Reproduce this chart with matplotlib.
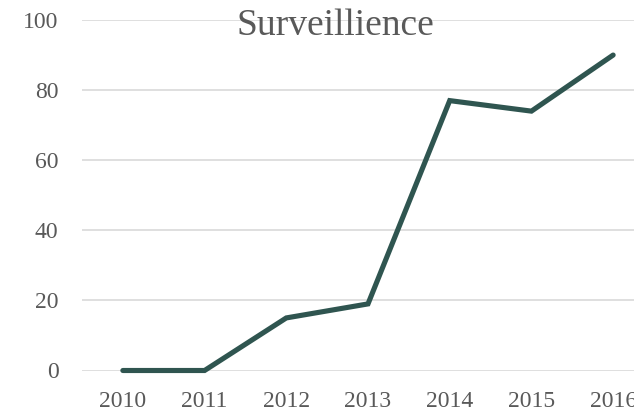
import matplotlib.pyplot as plt

# Data

years = ["2010", "2011", "2012", "2013", "2014", "2015", "2016"]
values = [0, 0, 15, 19, 77, 74, 90]
y_ticks = [0, 20, 40, 60, 80, 100]

text_color = "#595959"
line_color = "#2F5550"
grid_color = "#D9D9D9"

plt.rcParams['font.family'] = ['Liberation Serif', 'DejaVu Serif']

fig = plt.figure(figsize=(6.34, 4.12), dpi=100)
W, H = 634, 412
left, right, top, bottom = 82, 654, 20, 370.5
ax = fig.add_axes([left / W, 1 - bottom / H, (right - left) / W, (bottom - top) / H])

x = list(range(len(years)))
ax.plot(x, values, color=line_color, linewidth=3.7,
        solid_capstyle='round', solid_joinstyle='miter', clip_on=False, zorder=3)

ax.set_xlim(-0.5, len(years) - 0.5)
ax.set_ylim(0, 100)
ax.set_yticks(y_ticks)
ax.set_xticks(x)
ax.set_xticklabels(years)

for s in ax.spines.values():
    s.set_visible(False)
ax.grid(axis='y', color=grid_color, linewidth=1.2)
ax.set_axisbelow(True)
ax.tick_params(axis='both', length=0, labelsize=17, colors=text_color)
ax.tick_params(axis='y', pad=17)
ax.tick_params(axis='x', pad=15)

fig.text(335 / W, 1 - 26 / H, "Surveillience", ha='center', va='center',
         fontsize=27, color=text_color)

fig.savefig("out.png", dpi=100)
